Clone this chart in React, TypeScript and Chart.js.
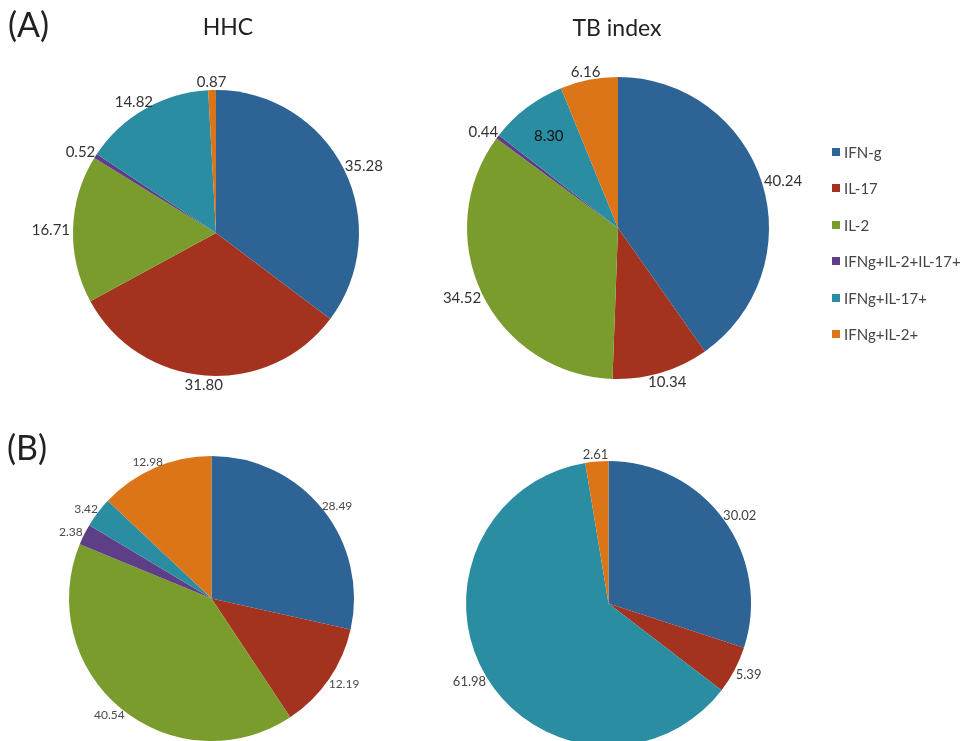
import React, { useEffect, useRef } from "react";
import { Chart, registerables } from "chart.js";

Chart.register(...registerables);

const categories = ["IFN-g", "IL-17", "IL-2", "IFNg+IL-2+IL-17+", "IFNg+IL-17+", "IFNg+IL-2+"];
const colors = ["#2E6396", "#A3331F", "#7A9C2D", "#5E3F87", "#2B8DA1", "#DB7518"];

const hhcA = [35.28, 31.8, 16.71, 0.52, 14.82, 0.87];
const tbA = [40.24, 10.34, 34.52, 0.44, 8.3, 6.16];
const hhcB = [28.49, 12.19, 40.54, 2.38, 3.42, 12.98];
const tbB = [30.02, 5.39, 0, 0, 61.98, 2.61];

const FONT = "Lato, 'Open Sans', sans-serif";

const pieLabels = {
  id: "pieLabels",
  afterDatasetsDraw(chart: any, _args: any, opts: any) {
    const ctx = chart.ctx;
    const meta = chart.getDatasetMeta(0);
    const data = chart.data.datasets[0].data as number[];
    const size = opts.size || 14;
    const gap = opts.gap ?? 3;
    const inside: number[] = opts.inside || [];
    ctx.save();
    ctx.font = `${size}px ${FONT}`;
    ctx.textAlign = "center";
    ctx.textBaseline = "middle";
    meta.data.forEach((arc: any, i: number) => {
      const v = data[i];
      if (!v) return;
      const p = arc.getProps(["x", "y", "startAngle", "endAngle", "outerRadius"], true);
      const mid = (p.startAngle + p.endAngle) / 2;
      const dx = Math.cos(mid);
      const dy = Math.sin(mid);
      const text = v.toFixed(2);
      if (inside.includes(i)) {
        const rr = p.outerRadius * 0.76;
        ctx.fillStyle = "#111";
        ctx.fillText(text, p.x + dx * rr, p.y + dy * rr);
        return;
      }
      const w = ctx.measureText(text).width;
      const h = size * 0.75;
      const R = p.outerRadius + gap;
      const cx = p.x + dx * R + (dx * w) / 2;
      const cy = p.y + dy * R + (dy * h) / 2;
      ctx.fillStyle = opts.color || "#404040";
      ctx.fillText(text, cx, cy + 1);
    });
    ctx.restore();
  },
};

type PieProps = {
  values: number[];
  cx: number;
  cy: number;
  r: number;
  labelSize: number;
  labelColor: string;
  inside?: number[];
};

const PAD = 70;

function Pie({ values, cx, cy, r, labelSize, labelColor, inside }: PieProps) {
  const ref = useRef<HTMLCanvasElement | null>(null);
  useEffect(() => {
    if (!ref.current) return;
    const chart = new Chart(ref.current, {
      type: "pie",
      data: {
        labels: categories,
        datasets: [
          {
            data: values,
            backgroundColor: colors,
            borderWidth: 0,
          },
        ],
      },
      options: {
        responsive: false,
        animation: false,
        layout: { padding: PAD },
        plugins: {
          legend: { display: false },
          tooltip: { enabled: false },
          pieLabels: { size: labelSize, color: labelColor, inside: inside || [], gap: 3 },
        } as any,
      },
      plugins: [pieLabels],
    });
    return () => chart.destroy();
  }, []);
  const side = 2 * (r + PAD);
  return (
    <canvas
      ref={ref}
      width={side}
      height={side}
      style={{ position: "absolute", left: cx - r - PAD, top: cy - r - PAD, width: side, height: side }}
    />
  );
}

const legendTop = 152;
const legendStep = 36.4;

export default function App() {
  return (
    <div
      style={{
        position: "absolute",
        left: 0,
        top: 0,
        width: 968,
        height: 741,
        overflow: "hidden",
        background: "#fff",
        fontFamily: FONT,
      }}
    >
      <Pie values={hhcA} cx={216} cy={233} r={143} labelSize={15} labelColor="#333" />
      <Pie values={tbA} cx={618} cy={228} r={151} labelSize={15} labelColor="#333" inside={[4]} />
      <Pie values={hhcB} cx={211.5} cy={598.5} r={142.5} labelSize={12} labelColor="#4a4a4a" />
      <Pie values={tbB} cx={608.5} cy={603.5} r={142.5} labelSize={13} labelColor="#444" />

      <div style={{ position: "absolute", left: 8, top: 3, fontSize: 34, color: "#222", lineHeight: "42px" }}>(A)</div>
      <div style={{ position: "absolute", left: 7, top: 426, fontSize: 34, color: "#222", lineHeight: "42px" }}>(B)</div>
      <div
        style={{ position: "absolute", left: 178, top: 12, width: 100, textAlign: "center", fontSize: 23, color: "#222", lineHeight: "28px" }}
      >
        HHC
      </div>
      <div
        style={{ position: "absolute", left: 557, top: 13, width: 120, textAlign: "center", fontSize: 23, color: "#222", lineHeight: "28px" }}
      >
        TB index
      </div>

      {categories.map((c, i) => (
        <div
          key={c}
          style={{
            position: "absolute",
            left: 832,
            top: legendTop + i * legendStep - 10,
            height: 20,
            display: "flex",
            alignItems: "center",
            fontSize: 15,
            color: "#444",
            whiteSpace: "nowrap",
          }}
        >
          <span style={{ display: "inline-block", width: 8, height: 8, background: colors[i], marginRight: 4 }} />
          {c}
        </div>
      ))}
    </div>
  );
}
